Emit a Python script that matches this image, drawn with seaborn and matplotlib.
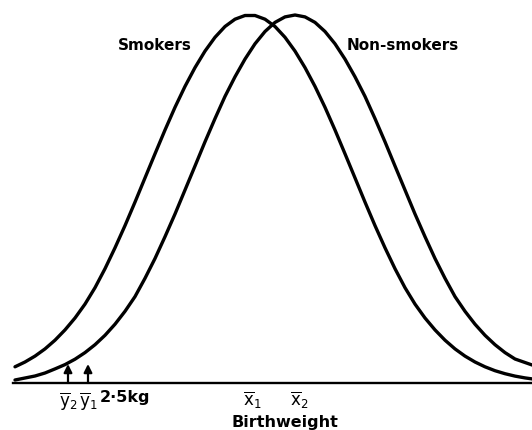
import numpy as np
import pandas as pd
import matplotlib
matplotlib.use("Agg")
import matplotlib.pyplot as plt
import seaborn as sns

# Birthweight grid (arbitrary units, axis is unlabelled apart from the means)
birthweight = [15, 25, 35, 45, 55, 65, 75, 85, 95, 105, 115, 125, 135, 145, 155,
               165, 175, 185, 195, 205, 215, 225, 235, 245, 255, 265, 275, 285,
               295, 305, 315, 325, 335, 345, 355, 365, 375, 385, 395, 405, 415,
               425, 435, 445, 455, 465, 475, 485, 495, 505, 515, 525, 535]

# curve heights
smokers = [16.2, 21.0, 26.9, 34.1, 42.8, 53.1, 65.0, 78.9, 95.3, 114.3, 135.2,
           157.4, 180.9, 205.1, 229.2, 253.0, 275.7, 296.6, 315.4, 331.9, 345.7,
           356.5, 363.8, 367.5, 367.5, 363.8, 356.5, 345.7, 331.9, 315.4, 296.6,
           275.7, 253.0, 229.2, 205.1, 180.9, 157.4, 135.2, 114.3, 95.3, 78.9,
           65.0, 53.1, 42.8, 34.1, 26.9, 21.0, 16.2, 12.3, 9.3, 6.9, 5.1, 3.7]
non_smokers = [3.0, 5.0, 7.0, 10.0, 14.1, 18.4, 23.8, 30.4, 38.3, 47.7, 58.8,
               71.7, 86.4, 104.7, 124.5, 146.3, 169.0, 193.0, 217.0, 241.2, 264.4,
               286.6, 306.2, 323.9, 339.2, 351.5, 360.6, 366.1, 368.0, 366.1, 360.6,
               351.5, 339.2, 323.9, 306.2, 286.6, 264.4, 241.2, 217.0, 193.0, 169.0,
               146.3, 124.5, 104.7, 86.4, 71.7, 58.8, 47.7, 38.3, 30.4, 24.0, 20.5,
               17.0]

group_names = ["Smokers", "Non-smokers"]
x_means = [252, 299]
x_mean_labels = [r"$\overline{\mathrm{x}}_1$", r"$\overline{\mathrm{x}}_2$"]
y_means = [68, 88]
y_mean_labels = [r"$\overline{\mathrm{y}}_2$", r"$\overline{\mathrm{y}}_1$"]
arrow_height = 19
cutoff_label = "2·5kg"
axis_label = "Birthweight"

df = pd.DataFrame({
    "weight": birthweight * 2,
    "height": smokers + non_smokers,
    "group": [group_names[0]] * len(birthweight) + [group_names[1]] * len(birthweight),
})

sns.set_style("white")
plt.rcParams["font.family"] = ["DejaVu Sans"]
plt.rcParams["mathtext.fontset"] = "dejavusans"
plt.rcParams["text.color"] = "black"

fig = plt.figure(figsize=(5.32, 4.30), dpi=100)
ax = fig.add_axes([0, 0, 1, 1])

sns.lineplot(data=df, x="weight", y="height", hue="group",
             palette=["black", "black"], linewidth=2.4, legend=False, ax=ax,
             solid_joinstyle="round")

ax.set_xlim(0, 532)
ax.set_ylim(-47, 383)

# baseline = bottom spine, means as upward ticks
for s in ["top", "right", "left"]:
    ax.spines[s].set_visible(False)
ax.spines["bottom"].set_position(("data", 0))
ax.spines["bottom"].set_bounds(13, 532)
ax.spines["bottom"].set_linewidth(1.7)
ax.spines["bottom"].set_color("black")
ax.set_yticks([])
ax.set_xticks(x_means)
ax.set_xticklabels(x_mean_labels, fontsize=12, fontweight="bold")
ax.tick_params(axis="x", direction="in", length=6, width=1.4, pad=5,
               colors="black", labelcolor="black")
ax.set_xlabel("")
ax.set_ylabel("")

# arrows for the low-weight means
for xm, lab in zip(y_means, y_mean_labels):
    ax.annotate("", xy=(xm, arrow_height), xytext=(xm, 0),
                arrowprops=dict(arrowstyle="-|>", lw=1.6, color="black",
                                mutation_scale=12, shrinkA=0, shrinkB=0))
    ax.text(xm, -7, lab, fontsize=12, ha="center", va="top", color="black")

ax.text(100, -7, cutoff_label, fontsize=11.5, fontweight="bold",
        ha="left", va="top", color="black")
ax.text(285, -44, axis_label, fontsize=11.5, fontweight="bold",
        ha="center", va="baseline", color="black")

ax.text(155, 337, group_names[0], fontsize=11, fontweight="bold",
        ha="center", va="center", color="black")
ax.text(403, 338, group_names[1], fontsize=11, fontweight="bold",
        ha="center", va="center", color="black")

fig.savefig("out.png", dpi=100)
